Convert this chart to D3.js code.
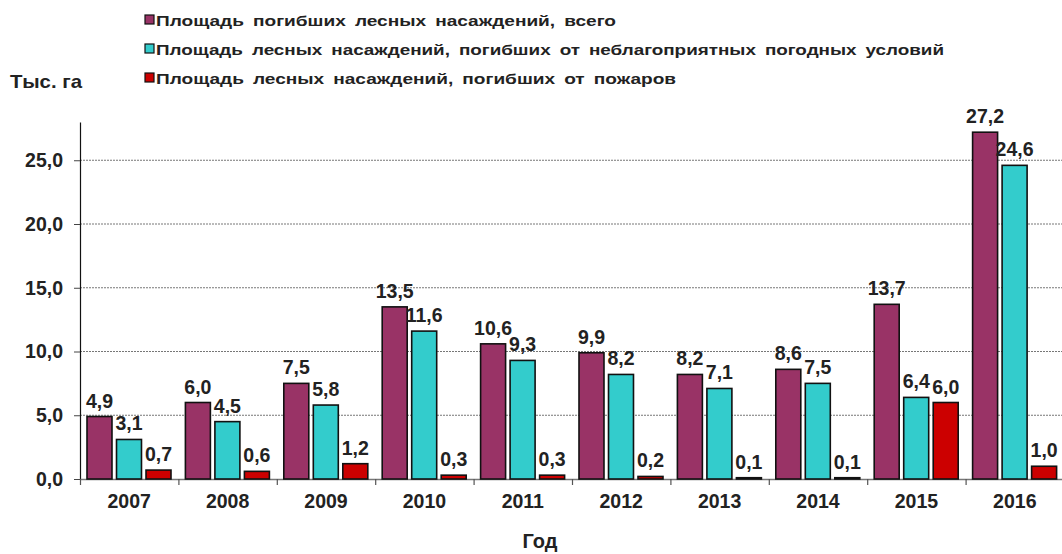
<!DOCTYPE html>
<html>
<head>
<meta charset="utf-8">
<script src="https://cdn.jsdelivr.net/npm/d3@7"></script>
<style>
  body { margin: 0; background: #fff; }
  text { font-family: Arial, "Liberation Sans", sans-serif; font-weight: bold; fill: #222; }
</style>
</head>
<body>
<div id="chart"></div>
<script>
const years = ["2007", "2008", "2009", "2010", "2011", "2012", "2013", "2014", "2015", "2016"];
const totalArea = [4.9, 6.0, 7.5, 13.5, 10.6, 9.9, 8.2, 8.6, 13.7, 27.2];
const weatherArea = [3.1, 4.5, 5.8, 11.6, 9.3, 8.2, 7.1, 7.5, 6.4, 24.6];
const fireArea = [0.7, 0.6, 1.2, 0.3, 0.3, 0.2, 0.1, 0.1, 6.0, 1.0];
const seriesNames = [
  "Площадь погибших лесных насаждений, всего",
  "Площадь лесных насаждений, погибших от неблагоприятных погодных условий",
  "Площадь лесных насаждений, погибших от пожаров"
];
const yTicks = [0, 5, 10, 15, 20, 25];

const series = [
  { key: "total", name: seriesNames[0], values: totalArea, color: "#993366" },
  { key: "weather", name: seriesNames[1], values: weatherArea, color: "#33CCCC" },
  { key: "fire", name: seriesNames[2], values: fireArea, color: "#CC0000" }
];

const W = 1062, H = 554;
const fmt = (v) => d3.format(".1f")(v).replace(".", ",");
const bigFont = "19.5px";

const svg = d3.select("#chart").append("svg")
  .attr("width", W).attr("height", H);

// scales
var x0 = d3.scaleBand().domain(years).range([80, 1064]).padding(0);
var x1 = d3.scaleBand().domain(series.map(s => s.key))
  .range([7, 91]).paddingInner(0.153).paddingOuter(0);
var y = d3.scaleLinear().domain([0, 28]).range([479, 122]);

// gridlines
svg.append("g")
  .selectAll("line")
  .data(yTicks.filter(d => d > 0))
  .enter().append("line")
  .attr("x1", 80).attr("x2", W)
  .attr("y1", d => y(d)).attr("y2", d => y(d))
  .attr("stroke", "#777").attr("stroke-width", 1)
  .attr("stroke-dasharray", "2,1");

// y axis
const yAxis = svg.append("g")
  .attr("transform", "translate(80,0)")
  .call(d3.axisLeft(y).tickValues(yTicks).tickFormat(fmt).tickSize(6).tickSizeOuter(0));
yAxis.select(".domain").attr("stroke", "#111").attr("stroke-width", 1.2);
yAxis.selectAll(".tick line").attr("stroke", "#444");
yAxis.selectAll(".tick text")
  .attr("x", -17)
  .style("font-size", bigFont).style("font-family", "Arial, 'Liberation Sans', sans-serif")
  .style("font-weight", "bold").attr("fill", "#222");

// x axis
const xAxis = svg.append("g")
  .attr("transform", "translate(0," + y(0) + ")")
  .call(d3.axisBottom(x0).tickSize(0).tickSizeOuter(0));
xAxis.select(".domain").attr("stroke", "#777").attr("stroke-width", 1.5);
xAxis.selectAll(".tick text")
  .attr("dy", "0")
  .attr("y", 29)
  .style("font-size", bigFont).style("font-family", "Arial, 'Liberation Sans', sans-serif")
  .style("font-weight", "bold").attr("fill", "#222");
// category separators
svg.append("g")
  .selectAll("line")
  .data(years)
  .enter().append("line")
  .attr("x1", d => x0(d) + 0.5).attr("x2", d => x0(d) + 0.5)
  .attr("y1", y(0)).attr("y2", y(0) + 6)
  .attr("stroke", "#555").attr("stroke-width", 1.2);

// bars
const groups = svg.append("g")
  .selectAll("g")
  .data(years)
  .enter().append("g")
  .attr("transform", d => "translate(" + x0(d) + ",0)");

groups.selectAll("rect")
  .data((d, i) => series.map(s => ({ key: s.key, value: s.values[i], color: s.color })))
  .enter().append("rect")
  .attr("x", d => x1(d.key))
  .attr("y", d => y(d.value))
  .attr("width", x1.bandwidth())
  .attr("height", d => y(0) - y(d.value))
  .attr("fill", d => d.color)
  .attr("stroke", "#111")
  .attr("stroke-width", 1.6);

groups.selectAll("text.val")
  .data((d, i) => series.map(s => ({ key: s.key, value: s.values[i] })))
  .enter().append("text")
  .attr("class", "val")
  .attr("x", d => x1(d.key) + x1.bandwidth() / 2)
  .attr("y", d => y(d.value) - 9)
  .attr("text-anchor", "middle")
  .style("font-size", bigFont)
  .text(d => fmt(d.value));

// legend
const legendWidths = [460, 788, 520];
const legend = svg.append("g")
  .selectAll("g")
  .data(series)
  .enter().append("g")
  .attr("transform", (d, i) => "translate(145," + [20, 49, 78][i] + ")");
legend.append("rect")
  .attr("x", 0).attr("y", -5)
  .attr("width", 9).attr("height", 9)
  .attr("fill", d => d.color)
  .attr("stroke", "#111").attr("stroke-width", 1.2);
legend.append("text")
  .attr("x", 11).attr("y", 5.5)
  .attr("textLength", (d, i) => legendWidths[i])
  .attr("lengthAdjust", "spacingAndGlyphs")
  .style("font-size", "15px")
  .style("word-spacing", "3px")
  .text(d => d.name);

// axis titles
svg.append("text")
  .attr("x", 10).attr("y", 88)
  .attr("textLength", 72)
  .attr("lengthAdjust", "spacingAndGlyphs")
  .style("font-size", "18.5px")
  .text("Тыс. га");
svg.append("text")
  .attr("x", 540).attr("y", 548)
  .attr("text-anchor", "middle")
  .style("font-size", "20px")
  .text("Год");
</script>
</body>
</html>
